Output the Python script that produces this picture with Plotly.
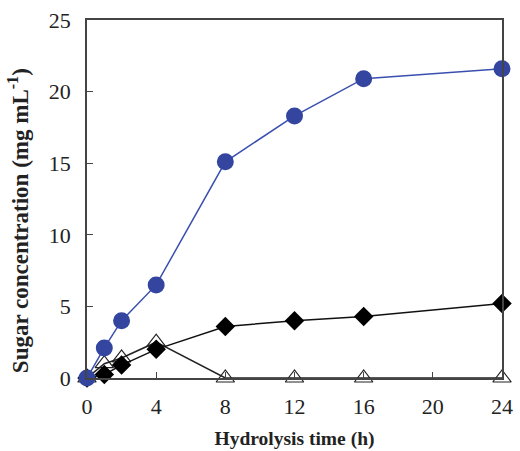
import plotly.graph_objects as go

time_h = [0, 1, 2, 4, 8, 12, 16, 24]
glucose = [0, 2.1, 4.0, 6.5, 15.1, 18.3, 20.9, 21.6]
diamond_series = [0, 0.25, 0.9, 2.0, 3.6, 4.0, 4.3, 5.2]
triangle_series = [0, 1.0, 1.4, 2.5, 0, 0, 0, 0]

x_ticks = [0, 4, 8, 12, 16, 20, 24]
y_ticks = [0, 5, 10, 15, 20, 25]

fig = go.Figure()
fig.add_trace(go.Scatter(
    x=time_h, y=triangle_series, mode="lines+markers",
    line=dict(color="#222222", width=1.5),
    marker=dict(symbol="triangle-up-open", size=16, color="#222222", line=dict(width=1.2)),
    cliponaxis=False, showlegend=False))
fig.add_trace(go.Scatter(
    x=time_h, y=diamond_series, mode="lines+markers",
    line=dict(color="#111111", width=1.5),
    marker=dict(symbol="diamond", size=15, color="#000000"),
    cliponaxis=False, showlegend=False))
fig.add_trace(go.Scatter(
    x=time_h, y=glucose, mode="lines+markers",
    line=dict(color="#3a4fae", width=1.5),
    marker=dict(symbol="circle", size=17, color="#3445a0"),
    cliponaxis=False, showlegend=False))

font_family = "Liberation Serif"
fig.update_layout(
    width=520, height=451,
    margin=dict(l=87, r=18, t=20, b=73),
    plot_bgcolor="white", paper_bgcolor="white",
    font=dict(family=font_family, color="#222222"),
    xaxis=dict(range=[0, 24], tickvals=x_ticks, ticks="inside", ticklen=6,
               showline=True, linecolor="#444444", linewidth=1.5, mirror=True,
               showgrid=False, zeroline=False, tickfont=dict(size=22, family=font_family),
               ticklabelstandoff=8, automargin=False,
               title=dict(text="<b>Hydrolysis time (h)</b>", font=dict(size=19.5, family=font_family), standoff=13)),
    yaxis=dict(range=[0, 25], tickvals=y_ticks, ticks="inside", ticklen=6,
               showline=True, linecolor="#444444", linewidth=1.5, mirror=True,
               showgrid=False, zeroline=False, tickfont=dict(size=22, family=font_family),
               ticklabelstandoff=10, automargin=False),
)
fig.add_annotation(
    text="<b>Sugar concentration (mg mL<sup>-1</sup>)</b>",
    xref="paper", yref="paper", x=-0.166, y=0.4385,
    xanchor="center", yanchor="middle", textangle=-90, showarrow=False,
    font=dict(size=23, family=font_family, color="#222222"))
fig.write_html("out.html")
